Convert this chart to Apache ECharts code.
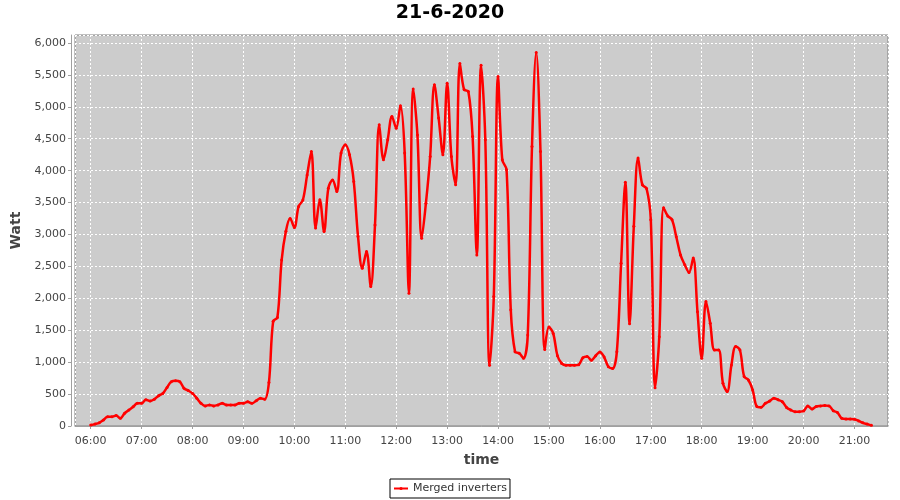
<!DOCTYPE html>
<html>
<head>
<meta charset="utf-8">
<script src="https://cdn.jsdelivr.net/npm/echarts@6/dist/echarts.min.js"></script>
<style>html,body{margin:0;padding:0;background:#fff}#c{width:900px;height:500px}</style>
</head>
<body>
<div id="c"></div>
<script>
const chartTitle = '21-6-2020';
const seriesName = 'Merged inverters';
const times = [
'06:00','06:05','06:10','06:15','06:20','06:25','06:30','06:35','06:40','06:45','06:50','06:55',
'07:00','07:05','07:10','07:15','07:20','07:25','07:30','07:35','07:40','07:45','07:50','07:55',
'08:00','08:05','08:10','08:15','08:20','08:25','08:30','08:35','08:40','08:45','08:50','08:55',
'09:00','09:05','09:10','09:15','09:20','09:25','09:30','09:35','09:40','09:45','09:50','09:55',
'10:00','10:05','10:10','10:15','10:20','10:25','10:30','10:35','10:40','10:45','10:50','10:55',
'11:00','11:05','11:10','11:15','11:20','11:25','11:30','11:35','11:40','11:45','11:50','11:55',
'12:00','12:05','12:10','12:15','12:20','12:25','12:30','12:35','12:40','12:45','12:50','12:55',
'13:00','13:05','13:10','13:15','13:20','13:25','13:30','13:35','13:40','13:45','13:50','13:55',
'14:00','14:05','14:10','14:15','14:20','14:25','14:30','14:35','14:40','14:45','14:50','14:55',
'15:00','15:05','15:10','15:15','15:20','15:25','15:30','15:35','15:40','15:45','15:50','15:55',
'16:00','16:05','16:10','16:15','16:20','16:25','16:30','16:35','16:40','16:45','16:50','16:55',
'17:00','17:05','17:10','17:15','17:20','17:25','17:30','17:35','17:40','17:45','17:50','17:55',
'18:00','18:05','18:10','18:15','18:20','18:25','18:30','18:35','18:40','18:45','18:50','18:55',
'19:00','19:05','19:10','19:15','19:20','19:25','19:30','19:35','19:40','19:45','19:50','19:55',
'20:00','20:05','20:10','20:15','20:20','20:25','20:30','20:35','20:40','20:45','20:50','20:55',
'21:00','21:05','21:10','21:15','21:20'
];
const watts = [
15,30,50,95,145,145,165,120,200,250,300,355,
355,410,390,420,475,510,605,695,710,695,590,555,
510,435,355,315,330,315,330,355,330,330,330,355,
355,380,355,395,435,420,680,1640,1700,2600,3050,3250,
3110,3440,3540,3930,4300,3100,3545,3045,3725,3855,3675,4275,
4405,4250,3830,2970,2470,2735,2185,3150,4720,4170,4485,4850,
4665,5015,4275,2080,5280,4560,2940,3490,4220,5345,4825,4250,
5370,4220,3780,5680,5270,5240,4535,2680,5650,4485,950,2030,
5475,4170,4015,1820,1165,1140,1060,1425,4380,5850,4300,1200,
1550,1450,1100,980,950,950,950,960,1070,1090,1030,1100,
1160,1080,930,900,1165,2550,3820,1600,3130,4200,3780,3720,
3230,600,1400,3420,3290,3230,2965,2680,2525,2405,2630,1790,
1060,1950,1610,1190,1190,670,540,955,1245,1190,775,720,
565,305,295,355,390,435,410,380,290,250,225,225,
235,315,265,305,315,320,315,240,210,120,110,110,
105,80,50,30,10
];
const xRange = ['05:41:30', '21:39:30'];
const yTicks = { min: 0, max: 6125, step: 500 };

function ts(s) {
  const p = s.split(':').map(Number);
  return new Date(2020, 5, 21, p[0], p[1], p[2] || 0).getTime();
}
const pad = n => (n < 10 ? '0' : '') + n;
const data = times.map((t, i) => [ts(t), watts[i]]);
const font = 'DejaVu Sans';

const chart = echarts.init(document.getElementById('c'), null, { renderer: 'canvas' });
chart.setOption({
  animation: false,
  backgroundColor: '#ffffff',
  title: {
    text: chartTitle, left: 'center', top: -1,
    textStyle: { fontFamily: font, fontWeight: 'bold', fontSize: 19, color: '#000' }
  },
  legend: {
    bottom: 2, left: 'center',
    borderColor: '#000', borderWidth: 1, padding: [4, 3, 4, 3],
    itemWidth: 14, itemHeight: 4, itemGap: 4,
    textStyle: { fontFamily: font, fontSize: 11, color: '#333' },
    data: [seriesName]
  },
  grid: {
    left: 75, right: 12, top: 35, bottom: 74,
    show: true, backgroundColor: '#cccccc', borderColor: '#808080', borderWidth: 1
  },
  xAxis: {
    type: 'time',
    min: ts(xRange[0]), max: ts(xRange[1]),
    minInterval: 3600000, maxInterval: 3600000,
    offset: 4,
    name: 'time', nameLocation: 'middle', nameGap: 23,
    nameTextStyle: { fontFamily: font, fontWeight: 'bold', fontSize: 14, color: '#444' },
    axisLine: { show: true, lineStyle: { color: '#a0a0a0', width: 1 } },
    axisTick: { show: true, length: 3, lineStyle: { color: '#a0a0a0' } },
    axisLabel: {
      showMinLabel: false, showMaxLabel: false,
      fontFamily: font, fontSize: 11, color: '#444', margin: 6,
      formatter: v => { const d = new Date(v); return d.getMinutes() === 0 ? pad(d.getHours()) + ':00' : ''; }
    },
    splitLine: { show: true, lineStyle: { color: '#ffffff', type: [2, 2], width: 1 } }
  },
  yAxis: {
    type: 'value',
    min: yTicks.min, max: yTicks.max, interval: yTicks.step,
    offset: 4,
    name: 'Watt', nameLocation: 'middle', nameGap: 41, nameRotate: 90,
    nameTextStyle: { fontFamily: font, fontWeight: 'bold', fontSize: 14, color: '#444' },
    axisLine: { show: true, lineStyle: { color: '#a0a0a0', width: 1 } },
    axisTick: { show: true, length: 3, lineStyle: { color: '#a0a0a0' } },
    axisLabel: {
      showMaxLabel: false,
      fontFamily: font, fontSize: 11, color: '#444', margin: 5,
      formatter: v => (v % yTicks.step === 0 ? v.toLocaleString('en-US') : '')
    },
    splitLine: { show: true, lineStyle: { color: '#ffffff', type: [2, 2], width: 1 } }
  },
  series: [{
    name: seriesName,
    type: 'line',
    data: data,
    smooth: 0.35,
    symbol: 'circle', symbolSize: 3, showSymbol: true,
    itemStyle: { color: '#ff0000' },
    lineStyle: { color: '#ff0000', width: 2.5 }
  }]
});
</script>
</body>
</html>
